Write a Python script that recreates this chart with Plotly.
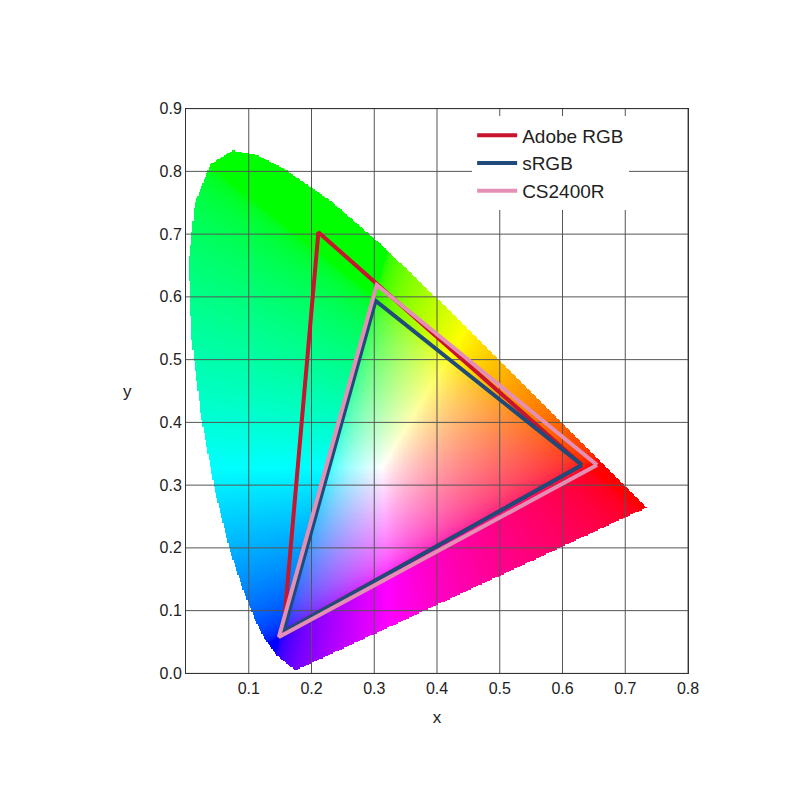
import numpy as np
import plotly.graph_objects as go

# spectral locus (CIE 1931 xy), read along the horseshoe edge
locus_x = [0.1741, 0.1440, 0.1241, 0.1096, 0.0913, 0.0687, 0.0454, 0.0235, 0.0082, 0.0039,
           0.0139, 0.0389, 0.0743, 0.1142, 0.1547, 0.2296, 0.3016, 0.3731, 0.4441, 0.5125,
           0.5752, 0.6270, 0.6915, 0.7347]
locus_y = [0.0050, 0.0297, 0.0578, 0.0868, 0.1327, 0.2007, 0.2950, 0.4127, 0.5384, 0.6548,
           0.7502, 0.8120, 0.8338, 0.8262, 0.8059, 0.7543, 0.6923, 0.6245, 0.5547, 0.4866,
           0.4242, 0.3725, 0.3083, 0.2653]

gamut_names = ["Adobe RGB", "sRGB", "CS2400R"]
gamut_x = [[0.631, 0.211, 0.155], [0.631, 0.302, 0.155], [0.655, 0.304, 0.148]]
gamut_y = [[0.332, 0.703, 0.066], [0.332, 0.594, 0.066], [0.332, 0.619, 0.058]]
gamut_colors = ["#c8142c", "#1f4a7a", "#e68fb4"]

x_ticks = [0.1, 0.2, 0.3, 0.4, 0.5, 0.6, 0.7, 0.8]
y_ticks = [0.0, 0.1, 0.2, 0.3, 0.4, 0.5, 0.6, 0.7, 0.8, 0.9]

# colour fill of the horseshoe
step = 0.002
gx = np.arange(0, 0.8, step) + step / 2
gy = np.arange(0, 0.9, step) + step / 2
X, Y = np.meshgrid(gx, gy)
px = np.array(locus_x + [locus_x[0]])
py = np.array(locus_y + [locus_y[0]])
inside = np.zeros(X.shape, dtype=bool)
for i in range(len(px) - 1):
    x1, y1, x2, y2 = px[i], py[i], px[i + 1], py[i + 1]
    cond = (y1 > Y) != (y2 > Y)
    xc = x1 + (Y - y1) * (x2 - x1) / (y2 - y1 + 1e-12)
    inside ^= cond & (X < xc)
Yc = np.maximum(Y, 1e-6)
XX = X / Yc
ZZ = (1 - X - Y) / Yc
M = np.array([[3.2406, -1.5372, -0.4986], [-0.9689, 1.8758, 0.0415], [0.0557, -0.2040, 1.0570]])
rgb = np.stack([XX, np.ones_like(XX), ZZ], axis=-1) @ M.T
rgb = np.clip(rgb, 0, None)
rgb = rgb / np.maximum(rgb.max(axis=-1, keepdims=True), 1e-9)
rgb = rgb ** (1 / 2.2)
img = (rgb * 255).astype(np.uint8)
img = np.where(inside[..., None], img, 255).astype(np.uint8)

fig = go.Figure()
fig.add_trace(go.Image(z=img, x0=gx[0], dx=step, y0=gy[0], dy=step, hoverinfo="skip"))

# grid drawn over the colour fill
for t in x_ticks:
    fig.add_trace(go.Scatter(x=[t, t], y=[0, 0.9], mode="lines", line=dict(color="#555", width=1),
                             showlegend=False, hoverinfo="skip"))
for t in y_ticks:
    fig.add_trace(go.Scatter(x=[0, 0.8], y=[t, t], mode="lines", line=dict(color="#555", width=1),
                             showlegend=False, hoverinfo="skip"))

for name, xs, ys, c in zip(gamut_names, gamut_x, gamut_y, gamut_colors):
    fig.add_trace(go.Scatter(x=xs + [xs[0]], y=ys + [ys[0]], mode="lines", name=name,
                             line=dict(color=c, width=4)))

fig.update_layout(
    width=800, height=800,
    margin=dict(l=178, r=120, t=100, b=134),
    plot_bgcolor="white", paper_bgcolor="white",
    font=dict(family="Liberation Sans, Arial", size=16, color="#222"),
    legend=dict(x=0.57, y=0.985, xanchor="left", yanchor="top", bgcolor="white",
                font=dict(size=19), tracegroupgap=0, itemwidth=40),
    xaxis=dict(range=[0, 0.8], tickvals=x_ticks, ticktext=[f"{t:.1f}" for t in x_ticks],
               showgrid=False, zeroline=False, showline=True, linecolor="#333", mirror=True,
               ticks="", title=dict(text="x", font=dict(size=17))),
    yaxis=dict(range=[0, 0.9], tickvals=y_ticks, ticktext=[f"{t:.1f}" for t in y_ticks],
               showgrid=False, zeroline=False, showline=True, linecolor="#333", mirror=True,
               ticks="", autorange=False),
)
fig.add_annotation(text="y", xref="paper", yref="paper", x=-0.13, y=0.5, showarrow=False,
                   font=dict(size=17))
fig.write_html("out.html")
